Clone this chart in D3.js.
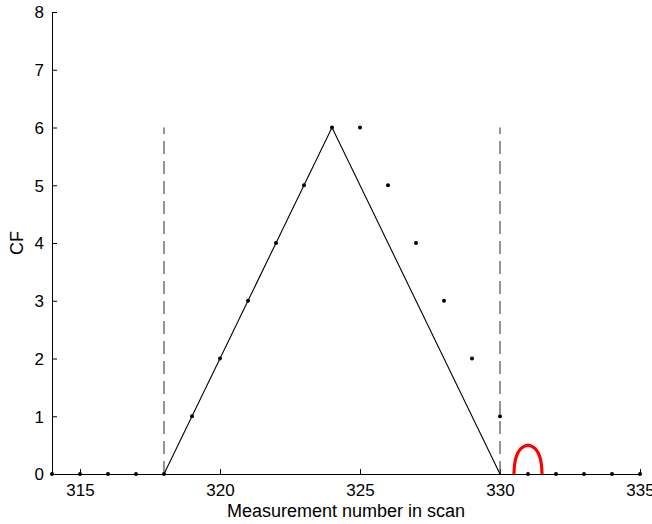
<!DOCTYPE html>
<html><head><meta charset="utf-8">
<script src="https://cdn.jsdelivr.net/npm/d3@7"></script>
<style>body{margin:0;background:#fff}svg{display:block}text{font-family:"Liberation Sans",Arial,sans-serif}</style>
</head><body>
<svg id="c" width="652" height="524"></svg>
<script>
const measurements = [314,315,316,317,318,319,320,321,322,323,324,325,326,327,328,329,330,331,332,333,334,335];
const cfValues     = [0,0,0,0,0,1,2,3,4,5,6,6,5,4,3,2,1,0,0,0,0,0];
const triangleX = [318,324,330];
const triangleY = [0,6,0];
const dashedX = [318,330];
const dashedTop = 6;
const arcX = [330.5,330.52,330.58,330.68,330.8,331,331.2,331.32,331.42,331.48,331.5];
const arcY = [0,0.16,0.3,0.4,0.46,0.5,0.46,0.4,0.3,0.16,0];
const xTicks = [315,320,325,330,335];
const yTicks = [0,1,2,3,4,5,6,7,8];

const svg = d3.select("#c");
const x = d3.scaleLinear().domain([314,335]).range([52,640]);
const y = d3.scaleLinear().domain([0,8]).range([474,12]);

// axes
const xAxis = svg.append("g").attr("transform","translate(0,474)")
  .call(d3.axisBottom(x).tickValues(xTicks).tickSizeInner(-5).tickSizeOuter(0).tickPadding(10));
const yAxis = svg.append("g").attr("transform","translate(52,0)")
  .call(d3.axisLeft(y).tickValues(yTicks).tickSizeInner(-5).tickSizeOuter(0).tickPadding(8));
[xAxis,yAxis].forEach(a=>{
  a.select(".domain").attr("stroke","#000");
  a.selectAll(".tick line").attr("stroke","#000");
  a.selectAll("text").attr("font-size",17).attr("fill","#000");
});
yAxis.selectAll("text").attr("dy","0.35em");

// dashed lines
svg.append("g").selectAll("line").data(dashedX).join("line")
  .attr("x1",d=>x(d)).attr("x2",d=>x(d)).attr("y1",y(0)).attr("y2",y(dashedTop))
  .attr("stroke","#5a5a5a").attr("stroke-width",1.3).attr("stroke-dasharray","13,7");

// triangle
svg.append("path").datum(d3.zip(triangleX,triangleY))
  .attr("d",d3.line().x(d=>x(d[0])).y(d=>y(d[1])))
  .attr("fill","none").attr("stroke","#000").attr("stroke-width",1.1);

// red arc
svg.append("path").datum(d3.zip(arcX,arcY))
  .attr("d",d3.line().x(d=>x(d[0])).y(d=>y(d[1])).curve(d3.curveCatmullRom))
  .attr("fill","none").attr("stroke","#ff0000").attr("stroke-width",3.2);

// dots
svg.append("g").selectAll("circle").data(d3.zip(measurements,cfValues)).join("circle")
  .attr("cx",d=>x(d[0])).attr("cy",d=>y(d[1])).attr("r",2).attr("fill","#000");

// labels
svg.append("text").attr("x",346).attr("y",517).attr("text-anchor","middle")
  .attr("font-size",18).text("Measurement number in scan");
svg.append("text").attr("transform","translate(23,243) rotate(-90)").attr("text-anchor","middle")
  .attr("font-size",18).text("CF");
</script>
</body></html>
